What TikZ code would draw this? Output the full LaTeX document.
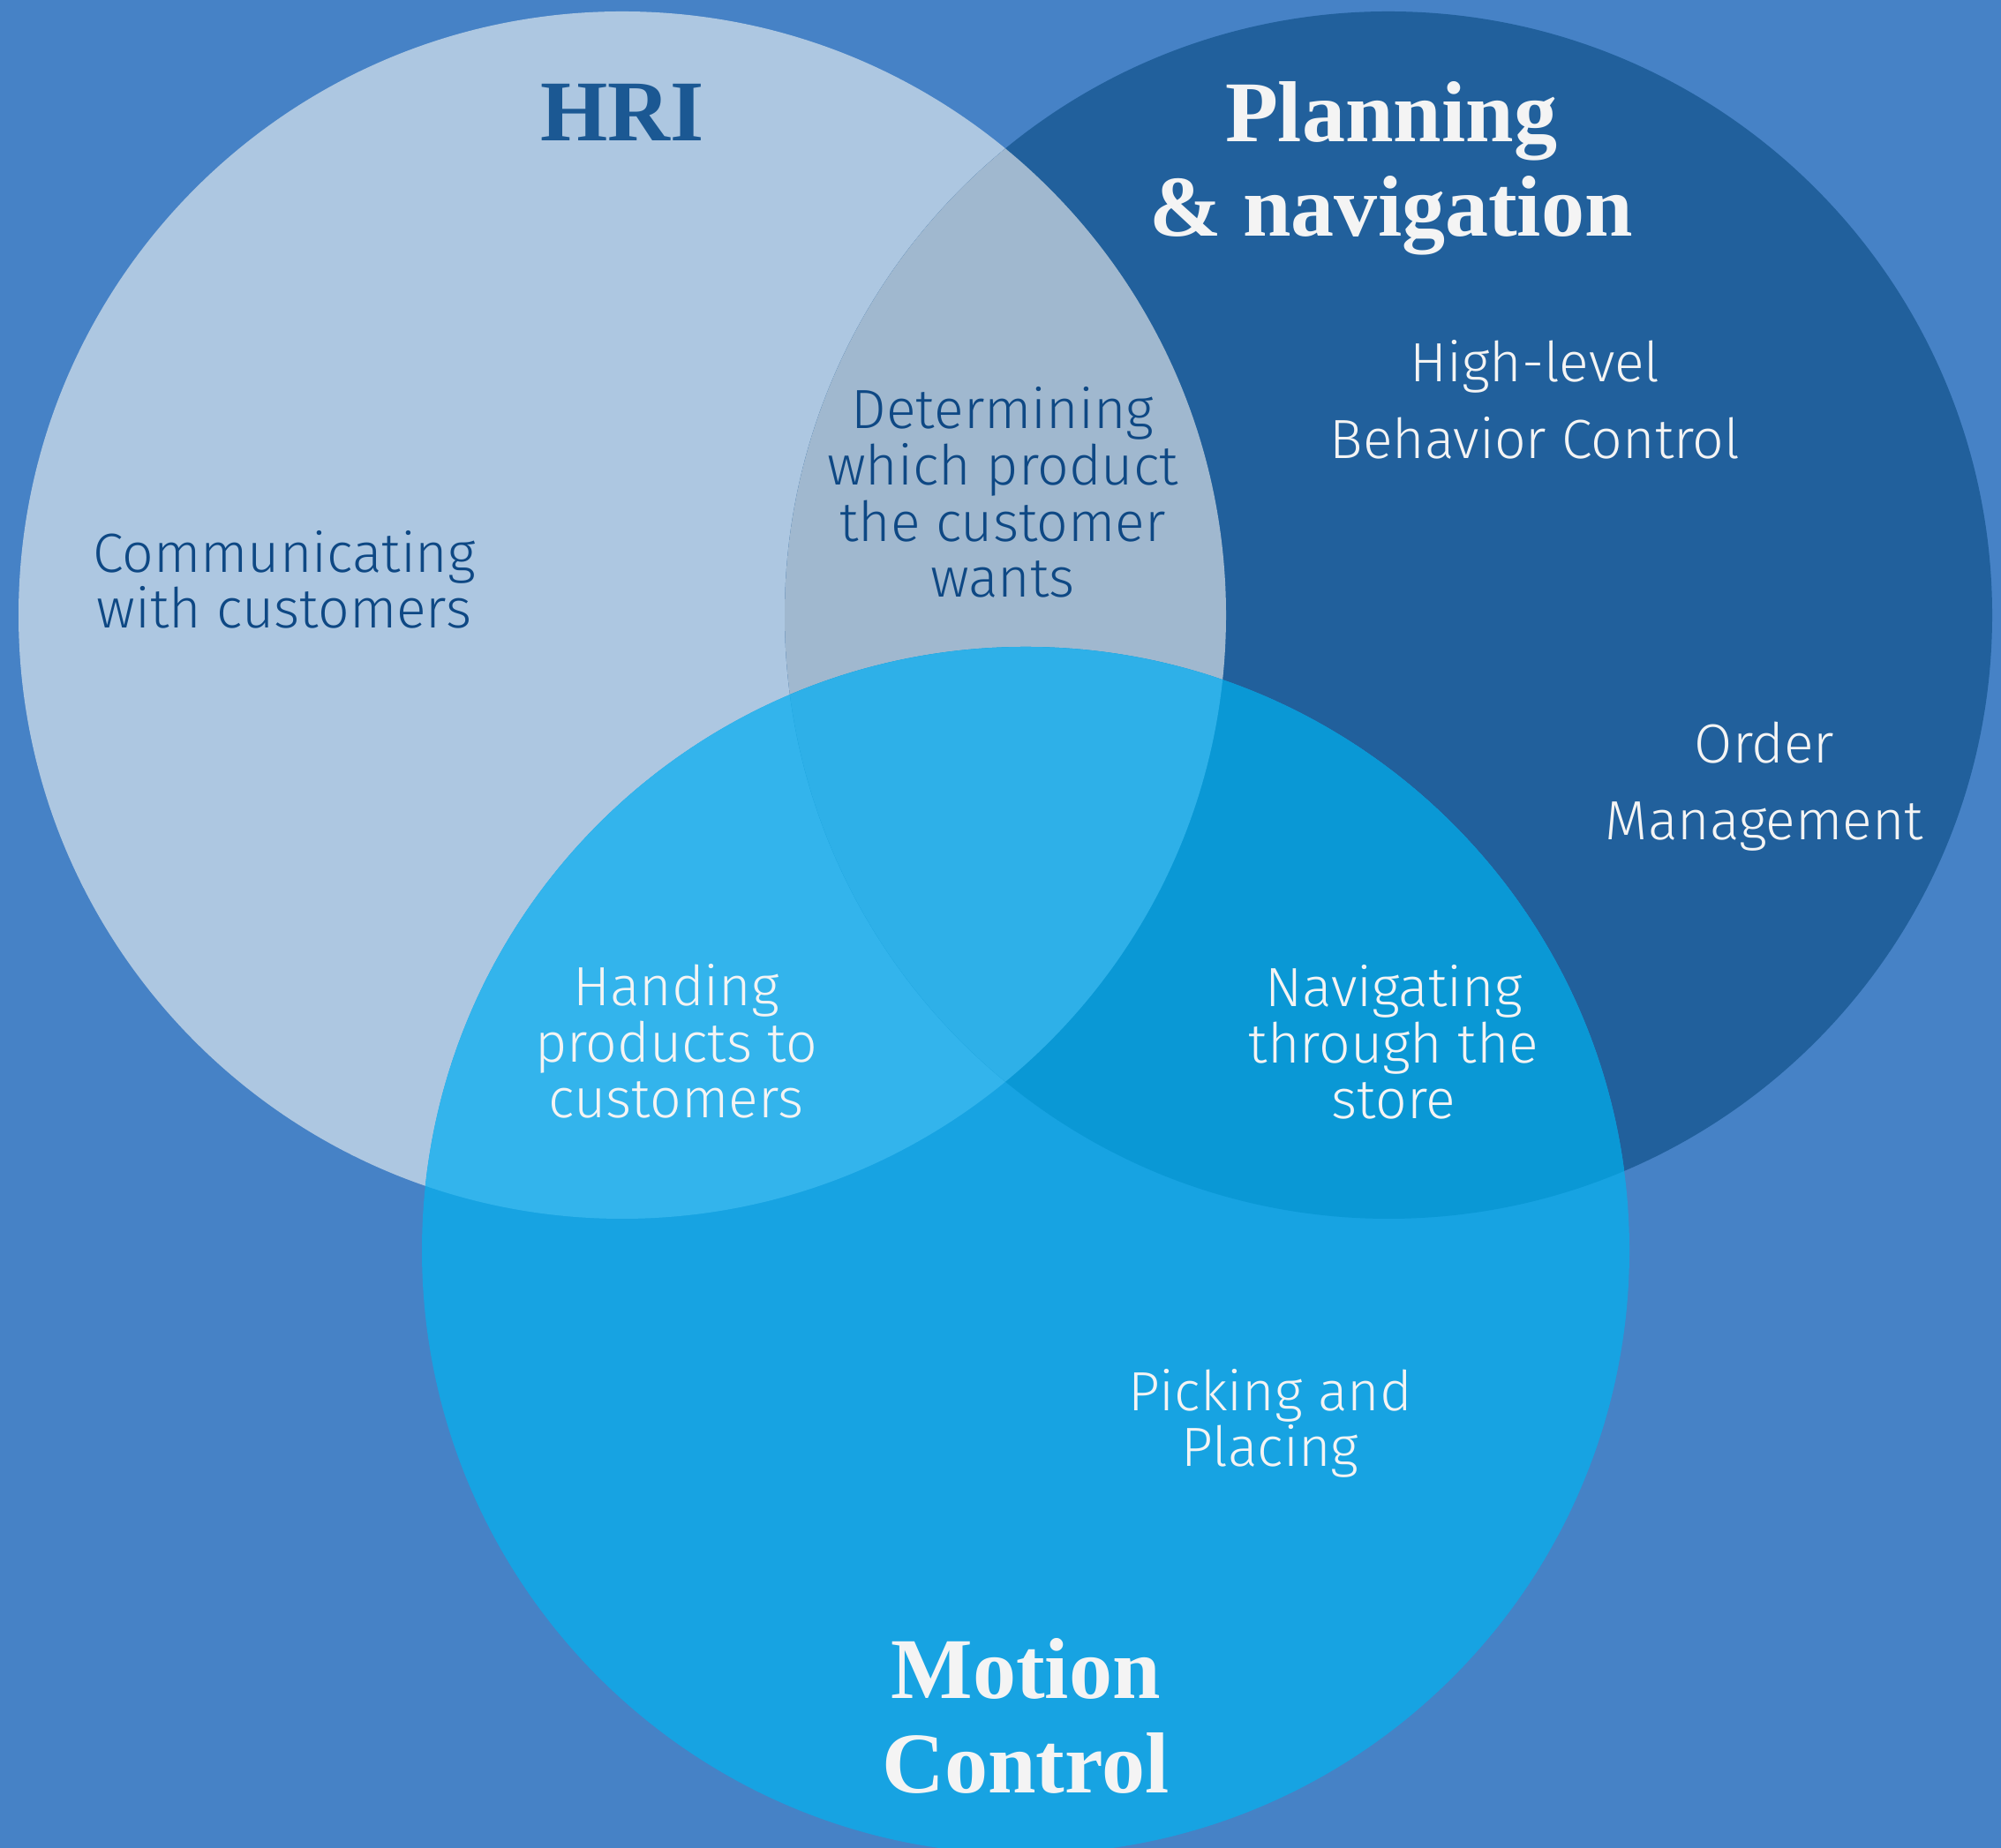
\documentclass[tikz,border=0pt]{standalone}
\usepackage{fontspec}
\usepackage{tikz}
\newfontfamily\labfont{Fira Sans Light}
\newfontfamily\ttlfont{Liberation Serif}

\definecolor{bgcol}{HTML}{4682C6}
\definecolor{hricol}{HTML}{ADC7E1}
\definecolor{plancol}{HTML}{21609C}
\definecolor{motcol}{HTML}{17A3E2}
\definecolor{hpcol}{HTML}{A0B8CF}
\definecolor{hmcol}{HTML}{33B4EC}
\definecolor{pmcol}{HTML}{0A98D5}
\definecolor{allcol}{HTML}{2EB0E8}
\definecolor{darktxt}{HTML}{0E4884}
\definecolor{ttldark}{HTML}{1B5893}
\definecolor{lighttxt}{HTML}{F4F4F4}

\tikzset{
    lab/.style={font=\labfont\fontsize{17.8}{18.2}\selectfont, align=center, anchor=base, inner sep=0pt},
    labwide/.style={lab, font=\labfont\fontsize{17.8}{24.8}\selectfont},
    ttl/.style={font=\ttlfont\bfseries\fontsize{27.9}{30.7}\selectfont, align=center, anchor=base, inner sep=0pt},
}

\newcommand{\circr}{6.84}

\begin{document}
\begin{tikzpicture}
    \useasboundingbox (0,0) rectangle (22.67,20.94);
    \fill[bgcol] (0,0) rectangle (22.67,20.94);

    \coordinate (hri) at (7.05,13.97);
    \coordinate (plan) at (15.73,13.97);
    \coordinate (mot) at (11.62,6.77);

    % the three sets
    \fill[hricol] (hri) circle (\circr);
    \fill[plancol] (plan) circle (\circr);
    \fill[motcol] (mot) circle (\circr);
    % overlaps
    \begin{scope}
        \clip (hri) circle (\circr);
        \fill[hpcol] (plan) circle (\circr);
        \fill[hmcol] (mot) circle (\circr);
    \end{scope}
    \begin{scope}
        \clip (plan) circle (\circr);
        \fill[pmcol] (mot) circle (\circr);
        \clip (hri) circle (\circr);
        \fill[allcol] (mot) circle (\circr);
    \end{scope}

    % titles (base = last line)
    \node[ttl, text=ttldark] (hrittl) at (7.05,19.34) {HRI};
    \node[ttl, text=lighttxt] (planttl) at (15.76,18.26) {Planning\\\& navigation};
    \node[ttl, text=lighttxt] (motttl) at (11.62,0.62) {Motion\\Control};

    % labels
    \node[lab, text=darktxt] (comm) at (3.22,13.82) {Communicating\\with customers};
    \node[lab, text=darktxt] (determ) at (11.36,14.17) {Determining\\which product\\the customer\\wants};
    \node[labwide, text=lighttxt] (behav) at (17.39,15.74) {High-level\\Behavior Control};
    \node[labwide, text=lighttxt] (order) at (19.99,11.42) {Order\\Management};
    \node[lab, text=lighttxt] (hand) at (7.66,8.27) {Handing\\products to\\customers};
    \node[lab, text=lighttxt] (navig) at (15.79,8.26) {Navigating\\through the\\store};
    \node[lab, text=lighttxt] (pick) at (14.39,4.32) {Picking and\\Placing};
\end{tikzpicture}
\end{document}
